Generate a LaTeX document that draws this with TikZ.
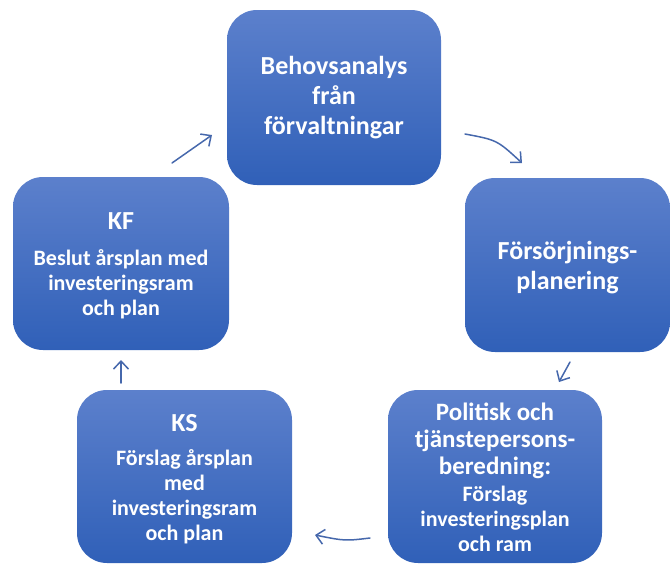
\documentclass[tikz,border=0pt]{standalone}
\usepackage{fontspec}
\setmainfont{Carlito}
\usetikzlibrary{arrows.meta}
\definecolor{boxtop}{RGB}{92,128,204}
\definecolor{boxbot}{RGB}{48,96,184}
\definecolor{arrowc}{RGB}{70,104,172}
\tikzset{
  box/.style={rounded corners=30pt, top color=boxtop, bottom color=boxbot, draw=none},
  ttl/.style={text=white, font=\bfseries\fontsize{26}{30}\selectfont, align=center, inner sep=0pt},
  ttlsmall/.style={text=white, font=\bfseries\fontsize{25}{27}\selectfont, align=center, inner sep=0pt},
  body/.style={text=white, font=\bfseries\fontsize{22}{25}\selectfont, align=center, inner sep=0pt},
  flow/.style={draw=arrowc, line width=1.5pt, line cap=round, -{Straight Barb[length=8pt,width=15pt,line width=1.5pt]}}
}
\begin{document}
\begin{tikzpicture}[x=1pt,y=-1pt]
\useasboundingbox (0,0) rectangle (670,563);
% boxes
\path[box] (227,10) rectangle (441,185);
\path[box] (465,178) rectangle (670,352);
\path[box] (388,390) rectangle (602,563);
\path[box] (77,390) rectangle (292,563);
\path[box] (13,177) rectangle (229,350);
% texts
\node[ttl] (behov) at (334,98) {Behovsanalys\\från\\förvaltningar};
\node[ttl] (fors) at (567.5,268) {Försörjnings-\\planering};
\node[ttlsmall] (polT) at (495,441) {Politisk och\\tjänstepersons-\\beredning:};
\node[body] (polB) at (495,519) {Förslag\\investeringsplan\\och ram};
\node[ttl] (ksT) at (184.5,423) {KS};
\node[body] (ksB) at (184.5,497) {Förslag årsplan\\med\\investeringsram\\och plan};
\node[ttl] (kfT) at (121,221) {KF};
\node[body] (kfB) at (121,284) {Beslut årsplan med\\investeringsram\\och plan};
% arrow end points
\coordinate (a1s) at (465,134); \coordinate (a1e) at (522,163);
\coordinate (a2s) at (570,362); \coordinate (a2e) at (559,382);
\coordinate (a3s) at (370,538); \coordinate (a3e) at (315,535);
\coordinate (a4s) at (121,383); \coordinate (a4e) at (121,360);
\coordinate (a5s) at (172,163); \coordinate (a5e) at (212,135);
\draw[flow] (a1s) .. controls (497,140) .. (a1e);
\draw[flow] (a2s) -- (a2e);
\draw[flow] (a3s) .. controls (345,541) .. (a3e);
\draw[flow] (a4s) -- (a4e);
\draw[flow] (a5s) -- (a5e);
\end{tikzpicture}
\end{document}
